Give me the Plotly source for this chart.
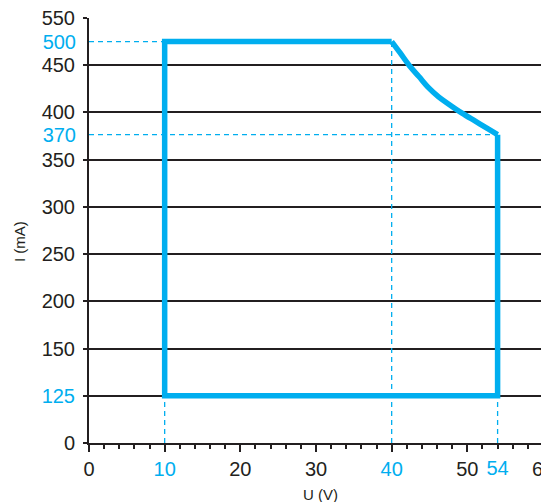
import numpy as np
import plotly.graph_objects as go

# ---------------- data ----------------
# Operating envelope (U in V, I in mA)
U_LEFT = 10
U_KNEE = 40
U_RIGHT = 54
I_MIN = 125
I_MAX = 500
I_END = 370
# power-limited curve
U_CURVE = [40, 41.1, 42.3, 43.6, 44.9, 46.2, 47.5, 49.3, 51.0, 52.8, 54]
I_CURVE = [500, 476.5, 450, 438, 426, 416.5, 409, 399, 388.5, 377.5, 370]

# schematic (non-linear) current axis: value -> axis step
I_AXIS = [0, 125, 150, 200, 250, 300, 350, 370, 400, 450, 500, 550]
I_STEP = [0, 1, 2, 3, 4, 5, 6, 6.53, 7, 8, 8.5, 9]
I_GRID = [0, 125, 150, 200, 250, 300, 350, 400, 450, 550]
I_ACCENT = [500, 370]
I_CYAN_GRID = [125]

U_TICKS = [0, 10, 20, 30, 40, 50, 60]
U_CYAN = [10, 40]
U_EXTRA = [54]

CYAN = "#00AEEF"
INK = "#231F20"
FONT = "Liberation Sans, Arial, sans-serif"

# page body has an 8px default margin
W, H = 541, 494
ML, MR, MT, MB = 81, 6, 10, 59


def ymap(v):
    return [float(t) for t in np.interp(v, I_AXIS, I_STEP)]


def lab(v, cyan):
    return f"<span style='color:{CYAN}'>{v}</span>" if cyan else str(v)


fig = go.Figure()

# dashed guide lines
dash = dict(color=CYAN, width=1.3, dash="5px,4px")
guides = [
    ([0, U_LEFT], [I_MAX, I_MAX]),
    ([0, U_RIGHT], [I_END, I_END]),
    ([U_LEFT, U_LEFT], [0, I_MIN]),
    ([U_KNEE, U_KNEE], [0, I_MAX]),
    ([U_RIGHT, U_RIGHT], [0, I_MIN]),
]
for gx, gy in guides:
    fig.add_trace(go.Scatter(x=gx, y=ymap(gy), mode="lines", line=dash,
                             hoverinfo="skip", showlegend=False, cliponaxis=False))

# envelope: rectangle part
rect_u = [U_RIGHT, U_RIGHT, U_LEFT, U_LEFT, U_KNEE]
rect_i = [I_END, I_MIN, I_MIN, I_MAX, I_MAX]
fig.add_trace(go.Scatter(x=rect_u, y=ymap(rect_i), mode="lines",
                         line=dict(color=CYAN, width=5.5),
                         hoverinfo="skip", showlegend=False, cliponaxis=False))
# envelope: curve part
fig.add_trace(go.Scatter(x=U_CURVE, y=ymap(I_CURVE), mode="lines",
                         line=dict(color=CYAN, width=5.5, shape="spline", smoothing=1),
                         hoverinfo="skip", showlegend=False, cliponaxis=False))

# invisible helper trace for overlay axes
fig.add_trace(go.Scatter(x=[0], y=[0], xaxis="x2", yaxis="y2", mode="markers",
                         marker=dict(opacity=0), hoverinfo="skip", showlegend=False))

tickfont = dict(family=FONT, size=20, color=INK)
common = dict(automargin=False, ticklabeloverflow="allow", zeroline=False, tickfont=tickfont)

fig.update_layout(
    width=W, height=H,
    margin=dict(l=ML, r=MR, t=MT, b=MB, autoexpand=False),
    paper_bgcolor="white", plot_bgcolor="white",
    font=dict(family=FONT, color=INK),
    xaxis=dict(
        range=[0, 60], tickmode="array", tickvals=U_TICKS,
        ticktext=[lab(v, v in U_CYAN) for v in U_TICKS],
        ticks="outside", ticklen=7, tickwidth=2, tickcolor=INK,
        minor=dict(dtick=2, ticks="outside", ticklen=4, tickwidth=1.5, tickcolor=INK, showgrid=False),
        showline=True, linecolor=INK, linewidth=2, showgrid=False,
        fixedrange=True, **common,
    ),
    xaxis2=dict(
        range=[0, 60], overlaying="x", side="bottom", tickmode="array",
        tickvals=U_EXTRA, ticktext=[lab(v, True) for v in U_EXTRA],
        ticks="outside", ticklen=7, tickcolor="rgba(0,0,0,0)", showline=False,
        showgrid=False, **common,
    ),
    yaxis=dict(
        range=[0, 9], tickmode="array", tickvals=ymap(I_GRID),
        ticktext=[lab(v, v in I_CYAN_GRID) for v in I_GRID],
        ticks="outside", ticklen=4, tickwidth=2, tickcolor=INK, ticklabelstandoff=4,
        showline=True, linecolor=INK, linewidth=2,
        showgrid=True, gridcolor=INK, gridwidth=2,
        fixedrange=True, **common,
    ),
    yaxis2=dict(
        range=[0, 9], overlaying="y", side="left", tickmode="array",
        tickvals=ymap(I_ACCENT), ticktext=[lab(v, True) for v in I_ACCENT],
        ticks="outside", ticklen=4, tickcolor="rgba(0,0,0,0)", ticklabelstandoff=4,
        showline=False, showgrid=False, **common,
    ),
    annotations=[
        dict(text="I (mA)", x=11, y=234, xref="paper", yref="paper", showarrow=False,
             xanchor="center", yanchor="middle",
             textangle=-90, font=dict(family=FONT, size=15, color=INK)),
        dict(text="U (V)", x=312, y=486, xref="paper", yref="paper", showarrow=False,
             xanchor="center", yanchor="middle",
             font=dict(family=FONT, size=15, color=INK)),
    ],
)

# convert pixel placements of the axis titles to paper coordinates
pw = W - ML - MR
ph = H - MT - MB
for a in fig.layout.annotations:
    a.x = (a.x - ML) / pw
    a.y = (H - MB - a.y) / ph

fig.write_html("out.html")
